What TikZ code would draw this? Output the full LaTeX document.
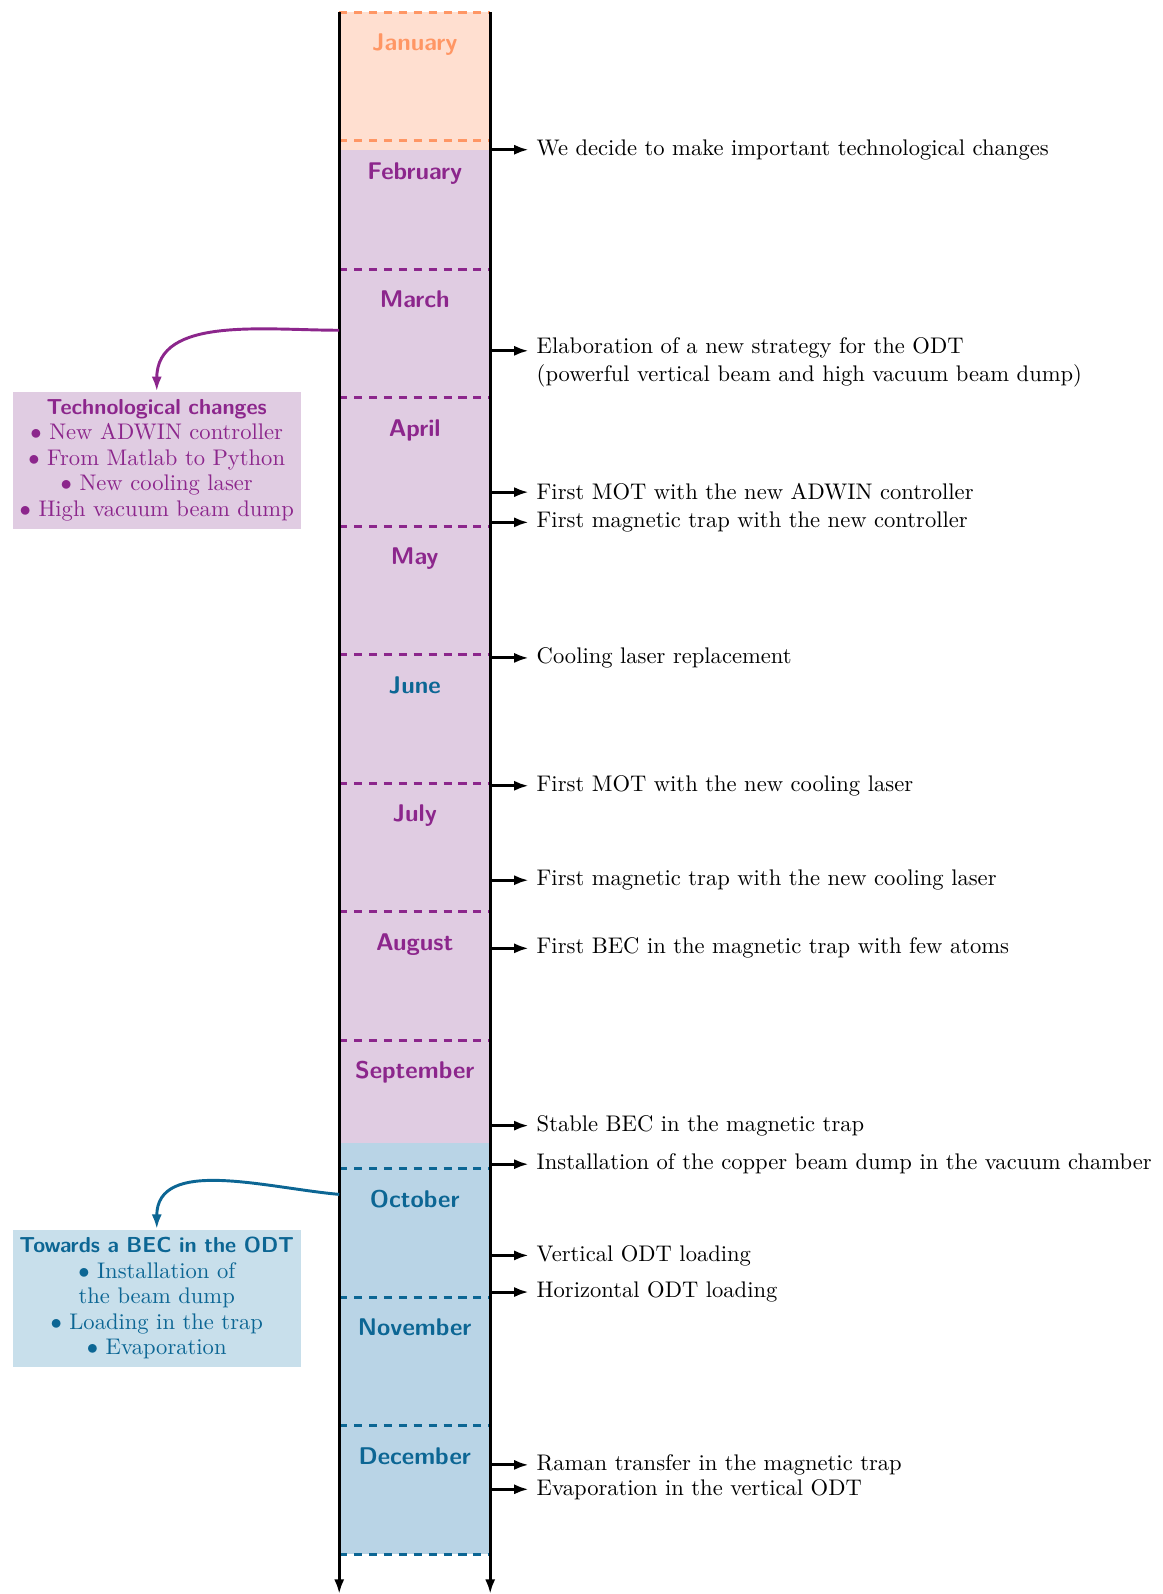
\documentclass[tikz,border=0pt]{standalone}
\usepackage{fontspec}
\usetikzlibrary{positioning,arrows.meta}

\definecolor{janorange}{RGB}{255,150,100}
\definecolor{janfill}{RGB}{255,223,208}
\definecolor{techpurple}{RGB}{140,38,140}
\definecolor{techfill}{RGB}{224,204,226}
\definecolor{odtblue}{RGB}{12,102,148}
\definecolor{odtfill}{RGB}{185,212,230}
\definecolor{odtbox}{RGB}{200,223,235}

\newcommand{\colw}{2.35}
\newcommand{\boxtitle}[1]{{\sffamily\bfseries\fontsize{9.6}{11.3}\selectfont #1}}

\begin{document}
\begin{tikzpicture}[
  month/.style={font=\sffamily\bfseries\fontsize{10.7}{12}\selectfont, anchor=base},
  event/.style={anchor=west, align=left},
  tick/.style={-{Latex[length=6.5pt,width=4.5pt]}, line width=1.3pt},
  sep/.style={dash pattern=on 3.6pt off 3pt, very thick},
  summary/.style={text width=4.35cm, align=center, anchor=north,
    inner xsep=2pt, font=\fontsize{10}{11.3}\selectfont},
  ]
  \useasboundingbox (-5.28,0.19) rectangle (12.82,-24.62);
  % the three periods of the year
  \fill[janfill] (0,0) rectangle (\colw,-2.14);
  \fill[techfill] (0,-2.14) rectangle (\colw,-17.6);
  \fill[odtfill] (0,-17.6) rectangle (\colw,-24);
  % month separators
  \foreach \i/\c in {0/janorange,1/janorange,2/techpurple,3/techpurple,
      4/techpurple,5/techpurple,6/techpurple,7/techpurple,8/techpurple,
      9/odtblue,10/odtblue,11/odtblue,12/odtblue}
    \draw[sep,\c] (0,-2*\i) -- (\colw,-2*\i);
  \foreach \m/\name/\c [count=\i from 0] in {jan/January/janorange,
      feb/February/techpurple,mar/March/techpurple,apr/April/techpurple,
      may/May/techpurple,jun/June/odtblue,jul/July/techpurple,
      aug/August/techpurple,sep/September/techpurple,oct/October/odtblue,
      nov/November/odtblue,dec/December/odtblue}
    \node[month,text=\c] (\m) at (\colw/2,-2*\i-0.6) {\name};
  % time axis
  \coordinate (ltop) at (0,0);
  \coordinate (lbot) at (0,-24.62);
  \coordinate (rtop) at (\colw,0);
  \coordinate (rbot) at (\colw,-24.62);
  \draw[tick] (ltop) -- (lbot);
  \draw[tick] (rtop) -- (rbot);
  % events
  \foreach \y/\txt [count=\i] in {
      2.14/We decide to make important technological changes,
      7.47/First MOT with the new ADWIN controller,
      7.94/First magnetic trap with the new controller,
      10.05/Cooling laser replacement,
      12.04/First MOT with the new cooling laser,
      13.51/First magnetic trap with the new cooling laser,
      14.57/First BEC in the magnetic trap with few atoms,
      17.33/Stable BEC in the magnetic trap,
      17.93/Installation of the copper beam dump in the vacuum chamber,
      19.35/Vertical ODT loading,
      19.92/Horizontal ODT loading,
      22.61/Raman transfer in the magnetic trap,
      22.99/Evaporation in the vertical ODT}
  {
    \coordinate (t\i) at (\colw,-\y);
    \node[event, right=0.6cm of t\i] (ev\i) {\txt};
    \draw[tick] (t\i) -- (ev\i);
  }
  \coordinate (todt) at (\colw,-5.27);
  \node[event, right=0.6cm of todt, yshift=-0.18cm] (odt)
    {Elaboration of a new strategy for the ODT\\
     (powerful vertical beam and high vacuum beam dump)};
  \draw[tick] (todt) -- (todt -| odt.west);
  % summaries on the left
  \node[summary, fill=techfill, text=techpurple] (tech) at (-2.84,-5.9)
    {\boxtitle{Technological changes}\\
     $\bullet$ New ADWIN controller\\
     $\bullet$ From Matlab to Python\\
     $\bullet$ New cooling laser\\
     $\bullet$ High vacuum beam dump};
  \node[summary, fill=odtbox, text=odtblue] (bec) at (-2.84,-18.94)
    {\boxtitle{Towards a BEC in the ODT}\\
     $\bullet$ Installation of\\ the beam dump\\
     $\bullet$ Loading in the trap\\
     $\bullet$ Evaporation};
  \coordinate (techfrom) at (0,-4.95);
  \coordinate (becfrom) at (0,-18.40);
  \draw[tick,techpurple] (techfrom) to[out=180,in=90] (tech.north);
  \draw[tick,odtblue] (becfrom) to[out=175,in=90] (bec.north);
\end{tikzpicture}
\end{document}
